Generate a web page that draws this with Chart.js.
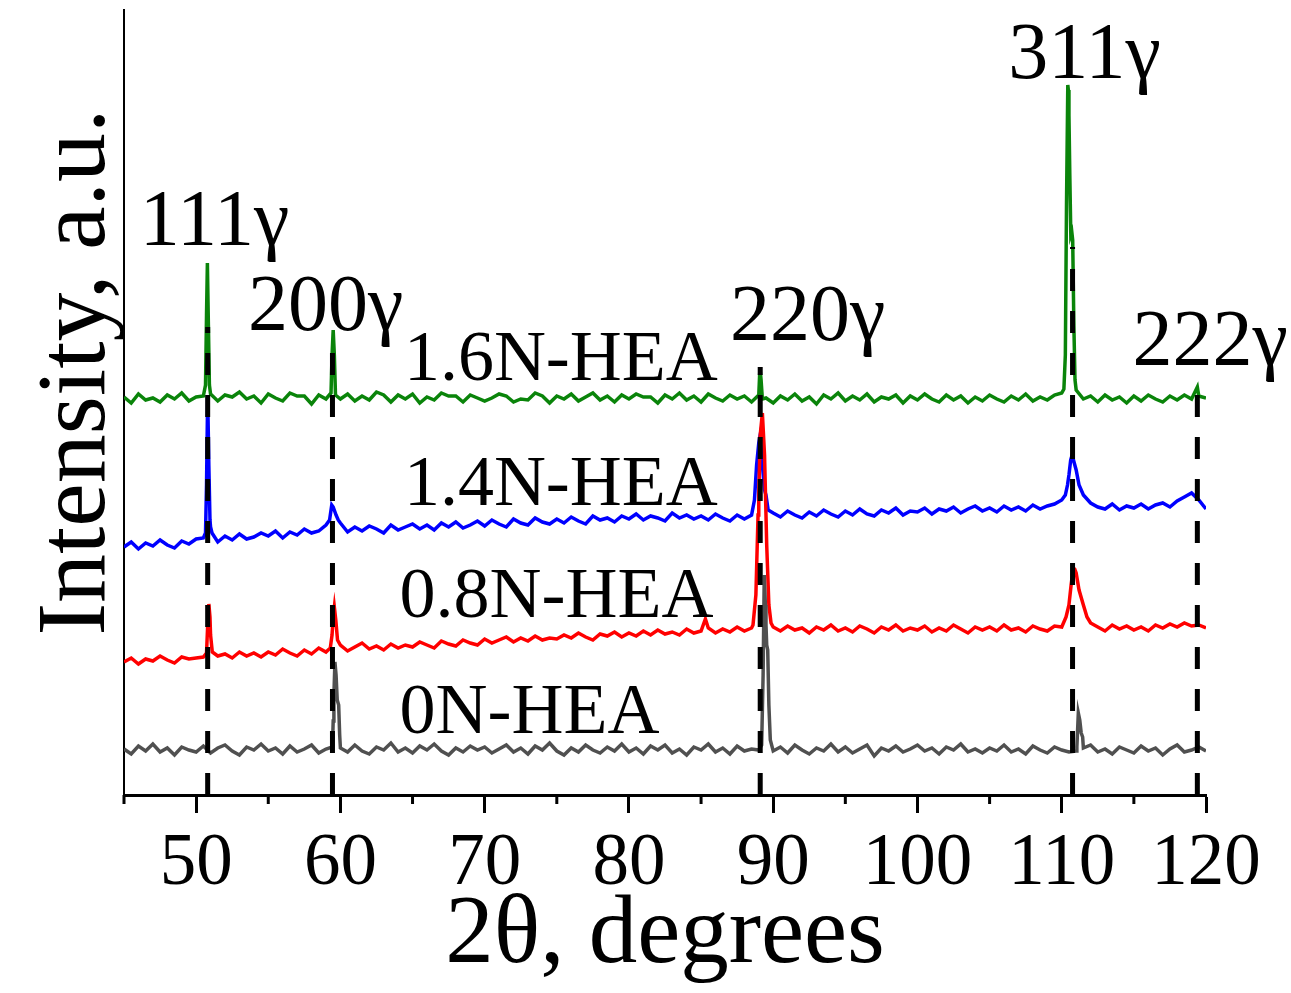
<!DOCTYPE html>
<html>
<head>
<meta charset="utf-8">
<script src="https://cdn.jsdelivr.net/npm/chart.js@4.4.1/dist/chart.umd.min.js"></script>
<style>
  html, body { margin: 0; padding: 0; background: #fff; }
  #wrap { width: 1291px; height: 993px; position: relative; }
</style>
</head>
<body>
<div id="wrap"><canvas id="xrdChart"></canvas></div>
<script>
// 2-theta grid, 0.5 degree step from 45 to 120
var twoTheta = [];
for (var i = 0; i <= 150; i++) twoTheta.push(45 + i * 0.5);

var xTicks = [50, 60, 70, 80, 90, 100, 110, 120];
var xMinorTicks = [45, 55, 65, 75, 85, 95, 105, 115];

// intensities (a.u., curves already shifted), one row = 5 degrees
var green16 = [
  398,392,401,395,397,393,400,396,402,394,
  398,399,401,394,400,398,403,396,399,392,
  401,397,394,402,399,399,391,400,396,465,
  396,401,394,399,395,403,400,393,400,396,
  401,392,398,395,402,399,399,393,400,397,
  394,397,401,399,393,396,395,402,399,392,
  399,396,401,394,398,402,395,399,393,400,
  396,401,398,398,392,400,396,402,395,399,
  393,401,397,394,400,396,399,393,400,397,
  392,399,395,401,394,398,391,400,396,402,
  394,399,395,401,393,398,396,400,392,399,
  395,401,396,393,400,395,399,392,398,394,
  400,396,393,399,395,401,394,398,395,400,
  402,680,405,396,399,393,400,395,398,392,
  399,394,400,396,393,399,395,400,396,399,
  397
];
var green16Peaks = [
  [50.65,410],[50.72,480],[50.78,532],[50.85,470],[50.92,410],
  [59.35,402],[59.42,440],[59.58,440],[59.66,400],
  [89.08,427],[89.16,415],[89.25,396],
  [110.15,406],[110.25,440],[110.33,590],[110.42,710],[110.46,705],[110.56,620],[110.63,560],[110.7,563],[110.76,555],[110.84,470],[110.92,415],
  [119.4,408]
];

var blue14 = [
  248,253,246,252,249,255,250,247,254,251,
  256,257,268,253,259,255,261,256,258,262,
  259,264,257,263,260,266,262,264,270,288,
  272,263,268,264,269,266,262,270,265,268,
  271,266,270,265,272,268,273,267,270,274,
  269,275,271,268,276,272,270,277,273,271,
  276,272,278,274,271,279,275,277,273,279,
  276,281,275,279,277,274,282,277,280,276,
  279,275,281,277,274,280,276,280,352,300,
  282,278,284,280,277,283,279,285,281,278,
  284,280,286,281,279,285,282,287,280,284,
  283,287,281,286,284,288,282,286,289,284,
  287,283,289,285,288,284,290,286,289,291,
  295,320,325,300,292,288,286,291,285,289,
  287,291,286,290,292,288,294,298,302,295,
  286
];
var blue14Peaks = [
  [50.65,262],[50.72,310],[50.8,400],[50.88,330],[50.96,275],[51.1,262],
  [59.25,275],[59.4,290],[59.7,280],[59.85,275],
  [88.7,295],[88.85,330],[89.1,360],[89.25,330],[89.4,305],[89.65,285],
  [110.25,300],[110.4,310],[110.62,335],[110.72,340],[110.85,333],[111.2,310]
];

var red08 = [
  133,137,131,136,134,139,135,132,138,136,
  137,138,160,139,141,137,143,139,142,138,
  143,140,146,142,139,145,141,147,143,178,
  150,144,148,152,146,149,145,151,147,150,
  148,153,150,147,154,151,149,155,152,150,
  156,152,155,158,153,157,154,159,155,157,
  156,160,157,162,158,155,161,159,163,158,
  162,159,164,160,165,161,163,160,166,162,
  164,167,162,166,163,168,164,167,300,280,
  168,164,169,165,167,162,168,165,170,164,
  167,163,169,166,162,168,165,170,164,167,
  165,169,163,167,164,170,166,162,168,165,
  168,164,170,165,167,163,169,166,164,169,
  168,190,222,190,172,168,164,170,166,169,
  165,168,164,170,167,171,168,172,169,170,
  167
];
var red08Peaks = [
  [50.72,142],[50.8,170],[50.88,191],[50.96,178],[51.12,143],
  [59.3,147],[59.42,160],[59.58,188],[59.68,175],[59.8,155],
  [85.3,176],
  [88.6,170],[88.8,200],[88.95,280],[89.1,360],[89.25,382],[89.4,340],[89.55,250],[89.7,190],[89.85,172],
  [110.3,178],[110.65,210],[110.8,227],[110.9,226],[111.2,205],[111.75,178]
];

var gray0 = [
  46,41,49,44,51,43,47,40,48,45,
  43,49,42,47,50,44,40,48,45,51,
  44,47,41,49,43,46,50,42,46,74,
  47,43,50,44,41,48,45,52,43,47,
  42,49,45,51,44,40,47,43,49,45,
  48,42,46,50,43,47,41,49,45,52,
  44,40,47,43,50,45,42,48,44,51,
  43,47,41,49,45,50,42,46,40,48,
  45,51,43,47,41,49,44,46,45,170,
  44,48,42,50,45,41,47,44,51,43,
  48,42,46,50,39,47,44,49,43,46,
  50,44,47,41,48,45,51,43,46,42,
  47,44,50,43,46,41,49,45,42,48,
  45,43,44,47,50,43,46,41,48,45,
  42,49,44,47,40,46,50,43,45,48,
  44
];
var gray0Peaks = [
  [59.45,48],[59.55,100],[59.62,133],[59.7,120],[59.78,95],[59.88,90],[59.95,60],
  [89.2,50],[89.3,120],[89.38,220],[89.46,190],[89.55,150],[89.62,145],[89.7,90],[89.8,55],
  [111.05,48],[111.15,82],[111.25,75],[111.35,62],[111.45,58]
];

// reflection positions and how high the dashed guides go
var reflections = [50.8, 59.45, 89.1, 110.75, 119.4];
var guideTops = [468, 452, 428, 548, 410];

var annotations = [
  {text: '111γ', x: 46.1, y: 550, size: 80},
  {text: '200γ', x: 53.6, y: 465, size: 80},
  {text: '220γ', x: 87.0, y: 455, size: 80},
  {text: '311γ', x: 106.3, y: 717, size: 80},
  {text: '222γ', x: 114.9, y: 430, size: 80},
  {text: '1.6N-HEA', x: 64.4, y: 415, size: 72},
  {text: '1.4N-HEA', x: 64.4, y: 290, size: 72},
  {text: '0.8N-HEA', x: 64.1, y: 178, size: 72},
  {text: '0N-HEA', x: 64.1, y: 62, size: 72}
];

function buildPoints(values, peaks) {
  var pts = values.map(function(v, i) { return {x: twoTheta[i], y: v}; });
  peaks.forEach(function(p) { pts.push({x: p[0], y: p[1]}); });
  pts.sort(function(a, b) { return a.x - b.x; });
  return pts;
}

var datasets = [];
reflections.forEach(function(pos, k) {
  datasets.push({
    data: [{x: pos, y: 0}, {x: pos, y: guideTops[k]}],
    borderColor: '#000',
    borderWidth: 5,
    borderDash: [22, 20]
  });
});
datasets.push({data: buildPoints(gray0, gray0Peaks), borderColor: '#505050'});
datasets.push({data: buildPoints(red08, red08Peaks), borderColor: '#ff0000'});
datasets.push({data: buildPoints(blue14, blue14Peaks), borderColor: '#0000ff'});
datasets.push({data: buildPoints(green16, green16Peaks), borderColor: '#0a840a'});

var serif = "'Liberation Serif', 'Times New Roman', serif";

var textPlugin = {
  id: 'textPlugin',
  afterDraw: function(chart) {
    var ctx = chart.ctx;
    var xs = chart.scales.x, ys = chart.scales.y;
    ctx.save();
    // minor ticks
    ctx.strokeStyle = '#000';
    ctx.lineWidth = 3;
    xMinorTicks.forEach(function(v) {
      var p = xs.getPixelForValue(v);
      ctx.beginPath();
      ctx.moveTo(p, xs.top);
      ctx.lineTo(p, xs.top + 9);
      ctx.stroke();
    });
    // labels
    ctx.fillStyle = '#000';
    ctx.textBaseline = 'alphabetic';
    ctx.textAlign = 'left';
    annotations.forEach(function(a) {
      ctx.font = a.size + 'px ' + serif;
      ctx.fillText(a.text, xs.getPixelForValue(a.x), ys.getPixelForValue(a.y));
    });
    // y title
    ctx.font = '98px ' + serif;
    ctx.textAlign = 'center';
    ctx.translate(104, 372);
    ctx.rotate(-Math.PI / 2);
    ctx.fillText('Intensity, a.u.', 0, 0);
    ctx.restore();
  }
};

new Chart(document.getElementById('xrdChart'), {
  type: 'line',
  data: {datasets: datasets},
  options: {
    responsive: true,
    maintainAspectRatio: false,
    animation: false,
    layout: {padding: {top: 10, right: 85, left: 0, bottom: 0}},
    elements: {
      point: {radius: 0},
      line: {borderWidth: 3.5, tension: 0, fill: false}
    },
    plugins: {legend: {display: false}, tooltip: {enabled: false}},
    scales: {
      x: {
        type: 'linear',
        min: 45,
        max: 120,
        afterBuildTicks: function(scale) {
          scale.ticks = xTicks.map(function(v) { return {value: v}; });
        },
        afterFit: function(scale) { scale.height = 198; },
        grid: {drawOnChartArea: false, drawTicks: true, tickLength: 18, tickWidth: 3, tickColor: '#000'},
        border: {display: true, color: '#000', width: 3},
        ticks: {
          color: '#000',
          padding: 15,
          maxRotation: 0,
          autoSkip: false,
          font: {family: serif, size: 73, lineHeight: 1}
        },
        title: {
          display: true,
          text: '2θ, degrees',
          color: '#000',
          padding: {top: 0, bottom: 8},
          font: {family: serif, size: 97, lineHeight: 1}
        }
      },
      y: {
        type: 'linear',
        min: 0,
        max: 785,
        afterFit: function(scale) { scale.width = 124; },
        grid: {display: false},
        border: {display: true, color: '#000', width: 2},
        ticks: {display: false}
      }
    }
  },
  plugins: [textPlugin]
});
</script>
</body>
</html>
